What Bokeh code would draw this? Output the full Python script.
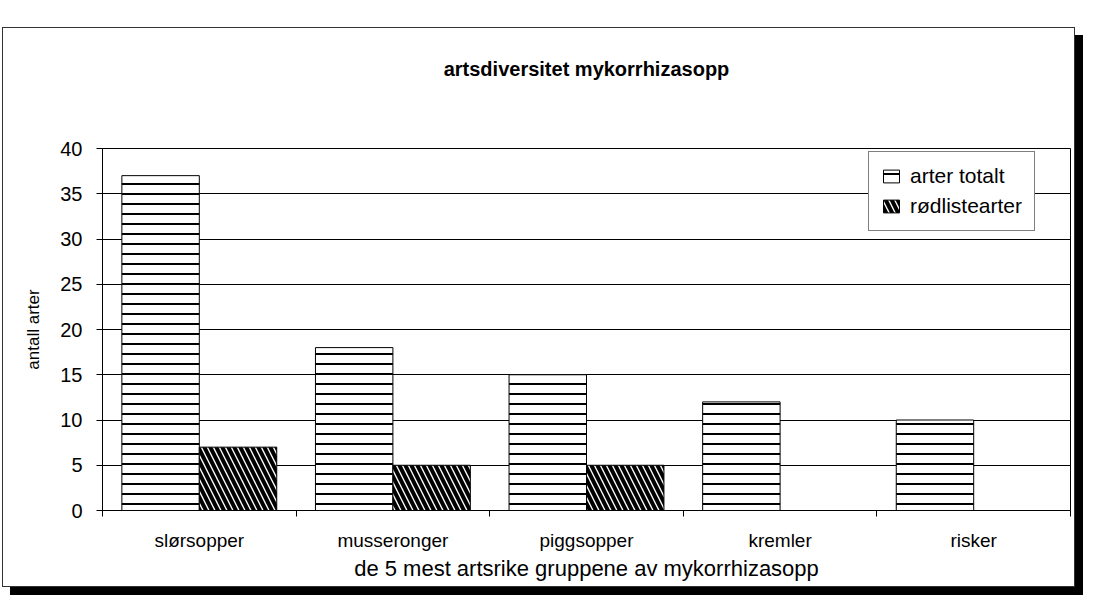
from bokeh.plotting import figure
from bokeh.models import ColumnDataSource, FixedTicker, Legend, LegendItem, Range1d, Title
from bokeh.embed import file_html
from bokeh.resources import INLINE

categories = ["slørsopper", "musseronger", "piggsopper", "kremler", "risker"]
arter_totalt = [37, 18, 15, 12, 10]
rodlistearter = [7, 5, 5, 0, 0]
y_ticks = [0, 5, 10, 15, 20, 25, 30, 35, 40]

FONT = "Liberation Sans"

idx = list(range(len(categories)))
src_tot = ColumnDataSource(dict(x=[i + 0.3 for i in idx], top=arter_totalt))
src_red = ColumnDataSource(dict(x=[i + 0.7 for i in idx], top=rodlistearter))

p = figure(width=1073, height=560, output_backend="svg", toolbar_location=None,
           x_range=Range1d(0, len(categories)), y_range=Range1d(0, 40),
           min_border_left=99, min_border_right=6, min_border_top=120, min_border_bottom=78,
           styles={"margin-left": "2px", "margin-top": "27px",
                   "border": "1px solid #333", "box-shadow": "8px 8px 0 #000"})

p.title.text = "artsdiversitet mykorrhizasopp"
p.title.align = "center"
p.title.text_font = FONT
p.title.text_font_size = "20px"
p.title.text_font_style = "bold"
p.title.text_color = "black"
p.title.standoff = 0

# white (invisible) spacer title placed between the frame and the real title
spacer = Title(text="x", text_color="white", text_font_size="12px", standoff=53)
p.add_layout(spacer, "above")

r1 = p.vbar(x="x", top="top", width=0.4, bottom=0, source=src_tot,
            fill_color="white", line_color="black", line_width=1,
            hatch_pattern="-", hatch_color="black", hatch_scale=10, hatch_weight=2)
r2 = p.vbar(x="x", top="top", width=0.4, bottom=0, source=src_red,
            fill_color="white", line_color="black", line_width=1,
            hatch_pattern="\\", hatch_color="black", hatch_scale=12, hatch_weight=4)

p.xgrid.visible = False
p.ygrid.grid_line_color = "black"
p.ygrid.grid_line_width = 1
p.ygrid.grid_line_alpha = 1
p.outline_line_color = "black"

p.yaxis.ticker = FixedTicker(ticks=y_ticks)
p.yaxis.axis_label = "antall arter"
p.yaxis.axis_label_text_font = FONT
p.yaxis.axis_label_text_font_style = "normal"
p.yaxis.axis_label_text_font_size = "17px"
p.yaxis.axis_label_text_color = "black"
p.yaxis.axis_label_standoff = 14
p.yaxis.major_label_text_font = FONT
p.yaxis.major_label_text_font_size = "20px"
p.yaxis.major_label_text_color = "black"
p.yaxis.major_label_standoff = 14
p.yaxis.major_tick_in = 0
p.yaxis.major_tick_out = 6
p.yaxis.major_tick_line_color = "black"
p.yaxis.minor_tick_line_color = None
p.yaxis.axis_line_color = "black"

p.xaxis.ticker = FixedTicker(ticks=[i + 0.5 for i in idx], minor_ticks=list(range(len(categories) + 1)))
p.xaxis.major_label_overrides = {i + 0.5: c for i, c in zip(idx, categories)}
p.xaxis.major_tick_in = 0
p.xaxis.major_tick_out = 0
p.xaxis.minor_tick_in = 0
p.xaxis.minor_tick_out = 6
p.xaxis.minor_tick_line_color = "black"
p.xaxis.axis_line_color = "black"
p.xaxis.major_label_text_font = FONT
p.xaxis.major_label_text_font_size = "19px"
p.xaxis.major_label_text_color = "black"
p.xaxis.major_label_standoff = 13
p.xaxis.axis_label = "de 5 mest artsrike gruppene av mykorrhizasopp"
p.xaxis.axis_label_text_font = FONT
p.xaxis.axis_label_text_font_style = "normal"
p.xaxis.axis_label_text_font_size = "22px"
p.xaxis.axis_label_text_color = "black"
p.xaxis.axis_label_standoff = 2

legend = Legend(items=[LegendItem(label="arter totalt", renderers=[r1]),
                       LegendItem(label="rødlistearter", renderers=[r2])],
                location=(766, 279), border_line_color="black", border_line_width=1,
                background_fill_alpha=1, label_text_font=FONT, label_text_font_size="21px",
                label_text_color="black",
                glyph_width=20, glyph_height=16, spacing=6, padding=12, label_standoff=9)
p.add_layout(legend, "center")

open("out.html", "w").write(file_html(p, INLINE))
